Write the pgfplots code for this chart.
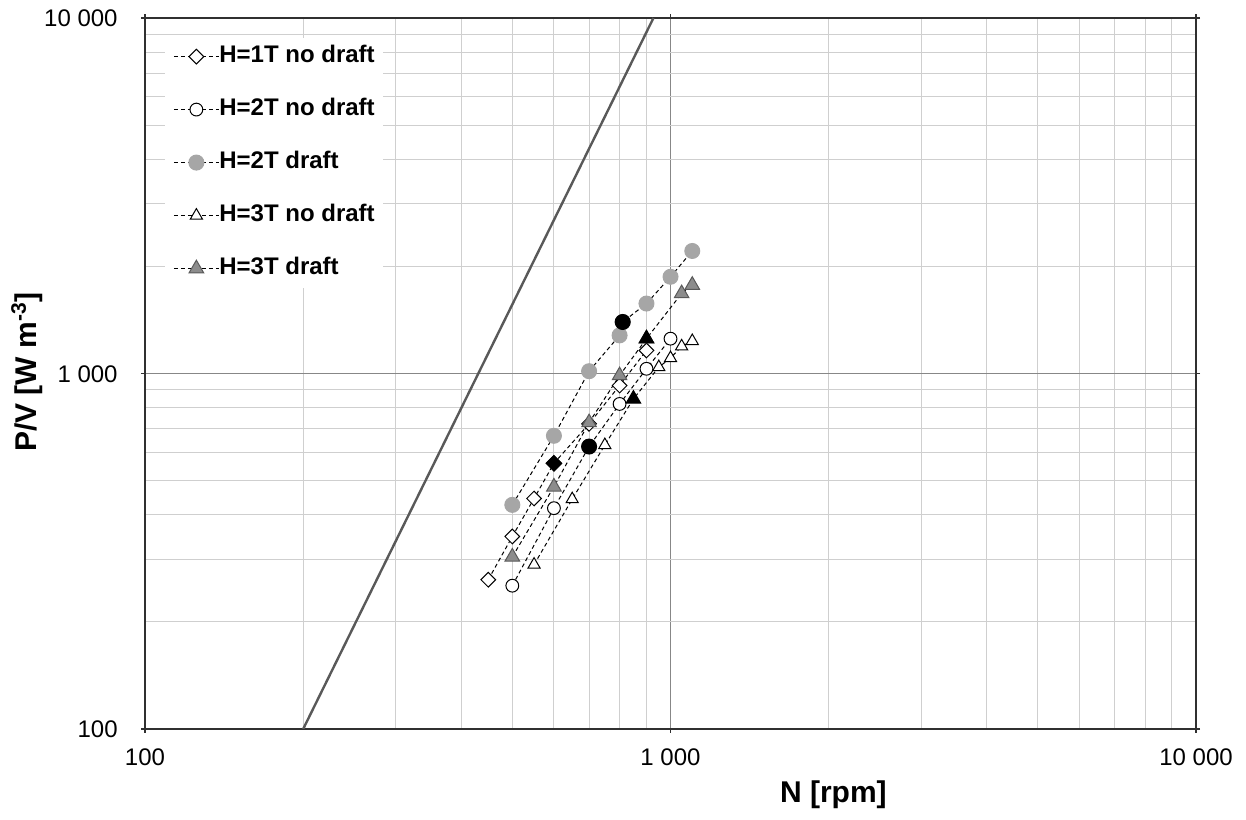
\documentclass[border=0pt]{standalone}
\usepackage{pgfplots}
\pgfplotsset{compat=1.18}
\usepackage{fontspec}
\setmainfont{Liberation Sans}
\definecolor{lgray}{HTML}{A6A6A6}
\definecolor{mgray}{HTML}{8C8C8C}
\definecolor{dgray}{HTML}{595959}
\definecolor{gridmaj}{HTML}{878787}
\definecolor{gridmin}{HTML}{CFCFCF}
\definecolor{axcol}{HTML}{303030}
\begin{document}
\begin{tikzpicture}
\useasboundingbox (-72.5pt,-45pt) rectangle (550.5pt,364.5pt);
\begin{axis}[
  at={(0,0)}, anchor=south west,
  scale only axis, width=525.5pt, height=355.5pt,
  xmode=log, ymode=log,
  xmin=100, xmax=10000, ymin=100, ymax=10000,
  xtick={100,1000,10000}, xticklabels={100,1 000,10 000},
  ytick={100,1000,10000}, yticklabels={100,1 000,10 000},
  minor xtick={200,300,400,500,600,700,800,900,2000,3000,4000,5000,6000,7000,8000,9000},
  minor ytick={200,300,400,500,600,700,800,900,2000,3000,4000,5000,6000,7000,8000,9000},
  grid=both,
  major grid style={gridmaj, line width=0.6pt},
  minor grid style={gridmin, line width=0.5pt},
  axis line style={axcol, line width=1pt},
  tick align=outside, major tick length=2pt, minor tick length=0pt,
  tick style={axcol, line width=0.6pt},
  tick label style={font=\fontsize{12}{14}\selectfont},
  xticklabel style={anchor=north, inner sep=0pt, text height=8.6pt, text depth=0pt, yshift=-7.5pt},
  yticklabel style={anchor=east, inner sep=0pt, text height=8.6pt, text depth=0pt, xshift=-11.5pt},
  xlabel={\bfseries N [rpm]},
  ylabel={\bfseries P/V [W m\textsuperscript{-3}]},
  label style={font=\fontsize{15}{17}\selectfont},
  xlabel style={at={(axis description cs:0.655,0)}, anchor=center, yshift=-33pt},
  ylabel style={at={(axis description cs:-0.1123,0.502)}, anchor=center},
  legend style={at={(0.019,0.973)}, anchor=north west, draw=none, fill=white,
    font=\bfseries\fontsize{12}{14}\selectfont, inner xsep=4pt, inner ysep=4pt,
    nodes={inner sep=0pt, text height=8.6pt, text depth=2.4pt},
    row sep=15.5pt, /tikz/every even column/.append style={column sep=2pt},
    /tikz/every odd column/.append style={column sep=0pt}},
  legend cell align=left,
  legend image code/.code={\draw[mark repeat=2,mark phase=2] plot coordinates {(0pt,0pt) (11.25pt,0pt) (22.5pt,0pt)};},
  every axis plot/.append style={black, line width=0.5pt, dash pattern=on 2pt off 1.5pt},
]
% H=1T no draft
\addplot[mark=square*, mark size=2.6pt, mark options={rotate=45, solid, fill=white, draw=black, line width=0.5pt}]
 coordinates {(450,263) (500,348) (550,445) (600,559) (700,722) (800,925) (900,1161)};
\addlegendentry{H=1T no draft\hspace{5pt}}
% H=2T no draft
\addplot[mark=*, mark size=3.2pt, mark options={solid, fill=white, draw=black, line width=0.5pt}]
 coordinates {(500,253) (600,418) (700,623) (800,821) (900,1031) (1000,1253)};
\addlegendentry{H=2T no draft}
% H=2T draft
\addplot[mark=*, mark size=3.75pt, mark options={solid, fill=lgray, draw=lgray}]
 coordinates {(500,427) (600,668) (700,1015) (800,1280) (811,1396) (900,1573) (1000,1871) (1100,2211)};
\addlegendentry{H=2T draft}
% H=3T no draft
\addplot[mark=triangle*, mark size=3.5pt, mark options={solid, fill=white, draw=black, line width=0.5pt}]
 coordinates {(550,290) (650,443) (750,629) (850,848) (950,1042) (1000,1105) (1050,1192) (1100,1234)};
\addlegendentry{H=3T no draft}
% H=3T draft
\addplot[mark=triangle*, mark size=4.2pt, mark options={solid, fill=mgray, draw=dgray, line width=0.5pt}]
 coordinates {(500,305) (600,480) (700,728) (800,987) (900,1253) (1050,1679) (1100,1773)};
\addlegendentry{H=3T draft}
% highlighted (black) points
\addplot[forget plot, only marks, mark=square*, mark size=2.77pt, mark options={rotate=45, solid, fill=black, draw=black}]
 coordinates {(600,559)};
\addplot[forget plot, only marks, mark=*, mark size=3.75pt, mark options={solid, fill=black, draw=black}]
 coordinates {(700,623) (811,1396)};
\addplot[forget plot, only marks, mark=triangle*, mark size=4.2pt, mark options={solid, fill=black, draw=black}]
 coordinates {(850,848) (900,1253)};
% N^3 reference line
\addplot[forget plot, no marks, solid, dgray, line width=1.2pt] coordinates {(200,100) (928,10000)};
\end{axis}
\end{tikzpicture}
\end{document}
